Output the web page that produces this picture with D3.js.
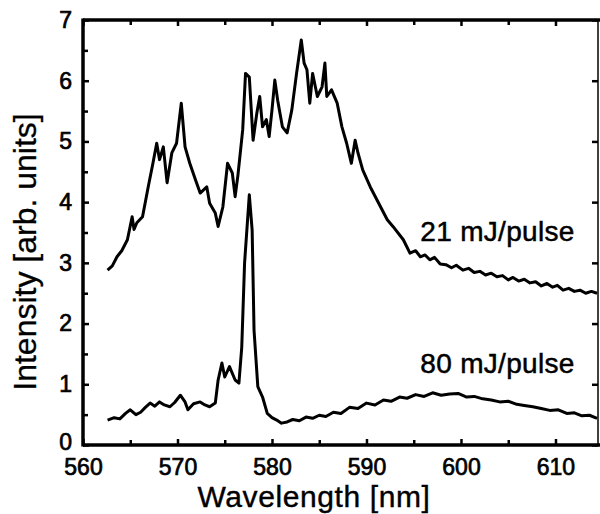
<!DOCTYPE html>
<html><head><meta charset="utf-8">
<script src="https://cdn.jsdelivr.net/npm/d3@7"></script>
<style>
body{margin:0;background:#fff;}
svg{display:block;}
text{font-family:"Liberation Sans",Arial,Helvetica,sans-serif;fill:#000;}
</style></head>
<body>
<svg id="c" width="600" height="514"></svg>
<script>
// ---- data ----
const wl21 = [562.6,563.1,563.6,564.1,564.7,565.2,565.4,565.7,566.3,566.9,567.4,567.8,568.1,568.5,568.9,569.4,569.9,570.4,570.8,571.3,571.9,572.4,573.1,573.4,574.0,574.3,574.8,575.3,575.8,576.1,576.4,576.9,577.2,577.6,578.0,578.4,578.7,579.0,579.4,579.7,580.0,580.3,580.6,581.1,581.6,582.1,582.6,583.1,583.4,583.7,584.0,584.3,584.8,585.3,585.6,585.8,586.3,586.9,587.4,587.9,588.4,588.8,589.1,589.6,590.4,591.1,592.2,592.8,593.9,594.6,595.2,595.7,596.2,596.7,597.2,597.8,598.4,599.0,599.5,600.2,600.8,601.4,602.0,602.6,603.2,603.8,604.4,605.0,605.5,606.1,606.7,607.3,607.9,608.5,609.1,609.7,610.2,610.8,611.4,612.0,612.6,613.2,613.8,614.4];
const int21 = [2.88,2.95,3.10,3.20,3.38,3.76,3.55,3.66,3.76,4.25,4.64,4.97,4.70,4.91,4.32,4.81,4.97,5.63,4.91,4.64,4.37,4.15,4.25,3.98,3.82,3.60,3.92,4.64,4.48,4.09,4.45,5.19,6.12,6.06,5.02,5.47,5.74,5.24,5.36,5.08,5.52,6.01,5.68,5.24,5.14,5.52,6.12,6.67,6.29,6.18,5.63,6.12,5.74,5.90,6.29,5.74,5.85,5.63,5.24,4.97,4.64,5.02,4.81,4.53,4.25,4.04,3.71,3.60,3.38,3.16,3.20,3.10,3.13,3.05,3.09,2.98,2.97,2.92,2.96,2.88,2.91,2.84,2.86,2.80,2.83,2.77,2.79,2.72,2.76,2.70,2.73,2.67,2.69,2.62,2.66,2.60,2.63,2.55,2.58,2.53,2.55,2.50,2.53,2.50];

const wl80 = [562.6,563.3,563.9,564.5,565.0,565.6,566.1,566.6,567.1,567.6,568.1,568.6,569.2,569.7,570.3,570.8,571.1,571.7,572.4,572.9,573.4,574.0,574.3,574.7,575.0,575.5,576.1,576.5,576.8,577.1,577.6,577.9,578.1,578.5,579.0,579.5,580.0,580.5,581.0,581.6,582.2,582.9,583.6,584.3,585.0,585.7,586.5,587.3,588.2,589.1,590.0,590.9,591.8,592.6,593.5,594.3,595.2,596.1,597.0,597.9,598.8,599.7,600.6,601.4,602.3,603.2,604.1,605.0,605.9,606.7,607.6,608.5,609.4,610.3,611.2,612.0,612.8,613.6,614.4];
const int80 = [0.41,0.45,0.43,0.52,0.58,0.50,0.54,0.62,0.69,0.64,0.71,0.66,0.63,0.70,0.82,0.71,0.58,0.68,0.71,0.66,0.63,0.69,1.07,1.35,1.12,1.29,1.07,1.02,1.61,3.00,4.12,3.54,1.89,0.96,0.79,0.52,0.45,0.41,0.36,0.38,0.42,0.40,0.46,0.44,0.49,0.47,0.54,0.52,0.62,0.60,0.69,0.66,0.74,0.72,0.79,0.77,0.83,0.80,0.86,0.82,0.84,0.85,0.79,0.80,0.76,0.74,0.71,0.72,0.67,0.65,0.63,0.60,0.57,0.58,0.52,0.53,0.48,0.49,0.44];

const xTicks = [560,565,570,575,580,585,590,595,600,605,610];
const yTicks = [0,0.5,1,1.5,2,2.5,3,3.5,4,4.5,5,5.5,6,6.5,7];
const seriesLabels = ["21 mJ/pulse","80 mJ/pulse"];
const labelAnchors = [[595.7,3.36],[595.7,1.19]];
const xTitle = "Wavelength [nm]";
const yTitle = "Intensity [arb. units]";

// ---- layout ----
const L=83, R=598, T=20, B=445;
const x = d3.scaleLinear().domain([560,614.5]).range([L,R]);
const y = d3.scaleLinear().domain([0,7]).range([B,T]);
const svg = d3.select("#c");

// curves
const line = d3.line().x(d=>x(d[0])).y(d=>y(d[1]));
[[wl21,int21],[wl80,int80]].forEach(([w,v])=>{
  svg.append("path").datum(w.map((d,i)=>[d,v[i]]))
    .attr("d",line).attr("fill","none").attr("stroke","#000")
    .attr("stroke-width",3).attr("stroke-linejoin","round");
});

// axes
const isMajX = d=>d%10===0, isMajY = d=>Number.isInteger(d);
const ax = svg.append("g").attr("transform",`translate(0,${B})`)
  .call(d3.axisBottom(x).tickValues(xTicks).tickSize(-6).tickPadding(14)
    .tickFormat(d=>isMajX(d)?d:""));
const axT = svg.append("g").attr("transform",`translate(0,${T})`)
  .call(d3.axisTop(x).tickValues(xTicks).tickSize(-6).tickFormat(""));
const ay = svg.append("g").attr("transform",`translate(${L},0)`)
  .call(d3.axisLeft(y).tickValues(yTicks).tickSize(-6).tickPadding(11)
    .tickFormat(d=>isMajY(d)?d:""));
const ayR = svg.append("g").attr("transform",`translate(${R},0)`)
  .call(d3.axisRight(y).tickValues(yTicks.filter(isMajY)).tickSize(-6).tickFormat(""));
[ax,axT,ay,ayR].forEach(g=>{
  g.select(".domain").remove();
  g.selectAll("line").attr("stroke","#000").attr("stroke-width",2.5);
  g.selectAll("text").attr("font-size",23).attr("font-family",'"Liberation Sans",Arial,sans-serif')
   .attr("stroke","#000").attr("stroke-width",0.7);
});
ax.selectAll(".tick").filter(d=>!isMajX(d)).select("line").attr("y2",-5);
axT.selectAll(".tick").filter(d=>!isMajX(d)).select("line").attr("y2",5);
ay.selectAll(".tick").filter(d=>!isMajY(d)).select("line").attr("x2",5);
ay.selectAll(".tick").filter(d=>d===0).select("text").attr("y",-3);

// frame
svg.append("line").attr("x1",L).attr("x2",R+2).attr("y1",B).attr("y2",B).attr("stroke","#000").attr("stroke-width",3.5);
svg.append("line").attr("x1",L).attr("x2",R+2).attr("y1",T).attr("y2",T).attr("stroke","#000").attr("stroke-width",3.5);
svg.append("line").attr("x1",L).attr("x2",L).attr("y1",T-1.5).attr("y2",B+1.5).attr("stroke","#000").attr("stroke-width",3.5);
svg.append("line").attr("x1",R).attr("x2",R).attr("y1",T).attr("y2",B).attr("stroke","#000").attr("stroke-width",1.5);

// series labels
seriesLabels.forEach((t,i)=>{
  svg.append("text").attr("x",x(labelAnchors[i][0])).attr("y",y(labelAnchors[i][1]))
    .attr("font-size",28).attr("letter-spacing",0.3).attr("stroke","#000").attr("stroke-width",0.5).text(t);
});

// titles
svg.append("text").attr("x",314).attr("y",507)
  .attr("text-anchor","middle").attr("font-size",30).attr("letter-spacing",0.6)
  .attr("stroke","#000").attr("stroke-width",0.4).text(xTitle);
svg.append("text").attr("transform","translate(36,252) rotate(-90)")
  .attr("text-anchor","middle").attr("font-size",32)
  .attr("stroke","#000").attr("stroke-width",0.3).text(yTitle);
</script>
</body></html>
